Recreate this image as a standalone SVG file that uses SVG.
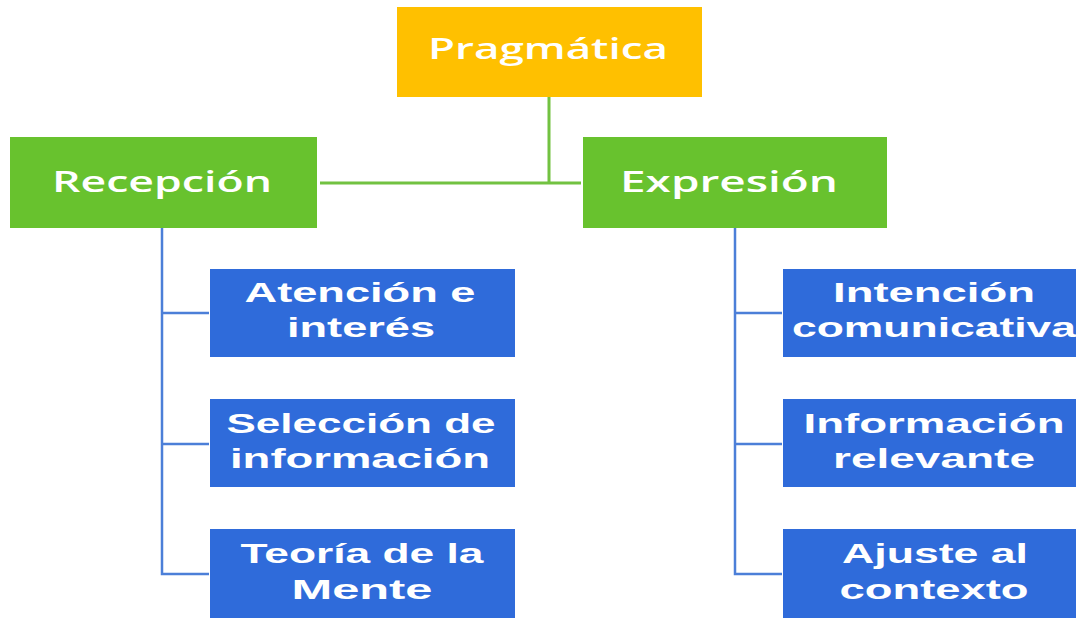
<svg xmlns="http://www.w3.org/2000/svg" width="1076" height="618" viewBox="0 0 1076 618">
<style>
.top{fill:#FFC000}
.grn{fill:#68C22E}
.blu{fill:#2F6BDA}
.t1{font-family:"Open Sans","Liberation Sans",sans-serif;font-size:29px;font-weight:600;fill:#FFFFFF;text-anchor:middle}
.t2{font-family:"Liberation Sans",Arial,sans-serif;font-size:28px;font-weight:700;fill:#FFFFFF;text-anchor:middle}
.lg{stroke:#72C241;stroke-width:3;fill:none}
.lb{stroke:#4C7FD8;stroke-width:2.5;fill:none}
</style>
<rect width="1076" height="618" fill="#FFFFFF"/>
<g id="connectors">
<path class="lg" d="M549,97 V183 M320,183 H581"/>
<path class="lb" d="M162,228 V574 H209 M162,313 H209 M162,444 H209"/>
<path class="lb" d="M735,228 V574 H782 M735,313 H782 M735,444 H782"/>
</g>
<g id="pragmatica">
<rect class="top" x="397" y="7" width="305" height="90"/>
<text class="t1" x="548" y="59" textLength="240" lengthAdjust="spacingAndGlyphs">Pragmática</text>
</g>
<g id="recepcion">
<rect class="grn" x="10" y="137" width="307" height="91"/>
<text class="t1" x="162" y="192" textLength="220" lengthAdjust="spacingAndGlyphs">Recepción</text>
</g>
<g id="expresion">
<rect class="grn" x="583" y="137" width="304" height="91"/>
<text class="t1" x="729" y="192" textLength="218" lengthAdjust="spacingAndGlyphs">Expresión</text>
</g>
<g id="atencion">
<rect class="blu" x="210" y="269" width="305" height="88"/>
<text class="t2" x="360" y="302" textLength="231" lengthAdjust="spacingAndGlyphs">Atención e</text>
<text class="t2" x="361" y="337" textLength="148" lengthAdjust="spacingAndGlyphs">interés</text>
</g>
<g id="seleccion">
<rect class="blu" x="210" y="399" width="305" height="88"/>
<text class="t2" x="361" y="433" textLength="269" lengthAdjust="spacingAndGlyphs">Selección de</text>
<text class="t2" x="360" y="468" textLength="260" lengthAdjust="spacingAndGlyphs">información</text>
</g>
<g id="teoria">
<rect class="blu" x="210" y="529" width="305" height="95"/>
<text class="t2" x="362" y="563" textLength="243" lengthAdjust="spacingAndGlyphs">Teoría de la</text>
<text class="t2" x="362" y="599" textLength="141" lengthAdjust="spacingAndGlyphs">Mente</text>
</g>
<g id="intencion">
<rect class="blu" x="783" y="269" width="303" height="88"/>
<text class="t2" x="934" y="302" textLength="202" lengthAdjust="spacingAndGlyphs">Intención</text>
<text class="t2" x="934" y="337" textLength="284" lengthAdjust="spacingAndGlyphs">comunicativa</text>
</g>
<g id="informacion">
<rect class="blu" x="783" y="399" width="303" height="88"/>
<text class="t2" x="934" y="433" textLength="261" lengthAdjust="spacingAndGlyphs">Información</text>
<text class="t2" x="934" y="468" textLength="202" lengthAdjust="spacingAndGlyphs">relevante</text>
</g>
<g id="ajuste">
<rect class="blu" x="783" y="529" width="303" height="95"/>
<text class="t2" x="935" y="563" textLength="186" lengthAdjust="spacingAndGlyphs">Ajuste al</text>
<text class="t2" x="934" y="599" textLength="189" lengthAdjust="spacingAndGlyphs">contexto</text>
</g>
</svg>
